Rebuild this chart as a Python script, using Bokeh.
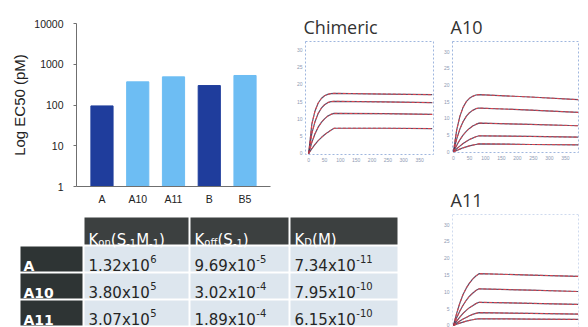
from bokeh.plotting import figure
from bokeh.models import (ColumnDataSource, FactorRange, Range1d, FixedTicker,
                          PrintfTickFormatter, Span)
from bokeh.layouts import row, column
from bokeh.core.properties import value
from bokeh.embed import file_html
from bokeh.resources import INLINE

# ---------------- data ----------------
antibodies = ["A", "A10", "A11", "B", "B5"]
ec50_pm = [95, 370, 490, 300, 530]
bar_group = ["parent", "variant", "variant", "parent", "variant"]
ec50_ticks = [1, 10, 100, 1000, 10000]

table_rows = ["A", "A10", "A11"]
kon_mantissa = ["1.32", "3.80", "3.07"]
kon_exponent = ["6", "5", "5"]
koff_mantissa = ["9.69", "3.02", "1.89"]
koff_exponent = ["-5", "-4", "-4"]
kd_mantissa = ["7.34", "7.95", "6.15"]
kd_exponent = ["-11", "-10", "-10"]
header_kon = [("K", "main"), ("on", "sub"), ("(S", "main"), ("-1", "sub"),
              ("M", "main"), ("-1", "sub"), (")", "main")]
header_koff = [("K", "main"), ("off", "sub"), ("(S", "main"), ("-1", "sub"), (")", "main")]
header_kd = [("K", "main"), ("D", "sub"), ("(M)", "main")]

time_s = [0, 10, 20, 30, 40, 50, 60, 70, 80, 240, 390]
chim_c1 = [0, 8.5, 12.3, 14.6, 15.9, 16.7, 17.1, 17.3, 17.4, 17.2, 17.0]
chim_c2 = [0, 5.8, 9.2, 11.6, 13.1, 14.1, 14.7, 15.0, 15.1, 14.9, 14.7]
chim_c3 = [0, 3.2, 5.7, 7.6, 9.0, 10.0, 10.8, 11.3, 11.6, 11.5, 11.3]
chim_c4 = [0, 1.4, 2.6, 3.7, 4.6, 5.4, 6.1, 6.7, 7.3, 7.3, 7.2]

a10_c1 = [0, 6.5, 10.6, 13.3, 15.0, 16.0, 16.6, 17.0, 17.1, 16.4, 15.6]
a10_c2 = [0, 3.8, 6.8, 9.0, 10.6, 11.7, 12.4, 12.9, 13.1, 12.5, 11.8]
a10_c3 = [0, 1.9, 3.6, 5.0, 6.1, 7.0, 7.7, 8.2, 8.6, 8.2, 7.8]
a10_c4 = [0, 0.9, 1.7, 2.5, 3.1, 3.7, 4.1, 4.5, 4.8, 4.6, 4.4]
a10_c5 = [0, 0.4, 0.8, 1.2, 1.5, 1.8, 2.0, 2.2, 2.4, 2.2, 2.1]

a11_c1 = [0, 3.6, 6.7, 9.2, 11.1, 12.6, 13.8, 14.7, 15.4, 15.0, 14.6]
a11_c2 = [0, 2.3, 4.3, 6.0, 7.5, 8.7, 9.6, 10.4, 10.9, 10.5, 10.1]
a11_c3 = [0, 1.3, 2.5, 3.6, 4.5, 5.3, 5.9, 6.5, 6.9, 6.6, 6.25]
a11_c4 = [0, 0.7, 1.3, 1.9, 2.4, 2.9, 3.3, 3.6, 3.8, 3.6, 3.4]
a11_c5 = [0, 0.35, 0.7, 1.0, 1.3, 1.5, 1.7, 1.9, 2.0, 1.9, 1.8]

sensor_yticks = [0, 5, 10, 15, 20, 25, 30]
sensor_xticks = [0, 50, 100, 150, 200, 250, 300, 350]

# ---------------- styles ----------------
BAR_COLORS = {"parent": "#1f3d9c", "variant": "#6dbdf3"}
AXIS_FONT = "Liberation Sans"
TITLE_FONT = "Open Sans"
TABLE_FONT = "DejaVu Sans"
HEADER_BG = "#3c4040"
LABEL_BG = "#2e3434"
CELL_BG = "#dde6ee"
CELL_TEXT = "#262626"

# ---------------- bar chart ----------------
bar = figure(width=290, height=207, x_range=FactorRange(factors=antibodies, range_padding=0.085),
             y_axis_type="log", y_range=Range1d(1, 10000),
             output_backend="svg", toolbar_location=None, frame_align=False,
             min_border_left=76, min_border_right=20, min_border_top=23, min_border_bottom=21)
bsrc = ColumnDataSource(dict(x=antibodies, top=ec50_pm,
                             color=[BAR_COLORS[g] for g in bar_group]))
bar.vbar(x="x", top="top", bottom=1, width=0.62, color="color", source=bsrc)
bar.xgrid.visible = False
bar.ygrid.visible = False
bar.outline_line_color = None
bar.yaxis.ticker = FixedTicker(ticks=ec50_ticks)
bar.yaxis.formatter = PrintfTickFormatter(format="%d")
bar.yaxis.minor_tick_line_color = None
bar.yaxis.major_tick_in = 0
bar.yaxis.major_tick_out = 3
bar.yaxis.major_label_standoff = 10
bar.yaxis.axis_label = "Log EC50 (pM)"
bar.yaxis.axis_label_standoff = 3
bar.yaxis.axis_label_text_font = AXIS_FONT
bar.yaxis.axis_label_text_font_size = "15px"
bar.yaxis.axis_label_text_font_style = "normal"
bar.yaxis.axis_label_text_color = "#222222"
bar.xaxis.major_tick_in = 0
bar.xaxis.major_tick_out = 0
bar.xaxis.major_label_standoff = 6
for ax in (bar.xaxis, bar.yaxis):
    ax.axis_line_color = "#6f6f6f"
    ax.major_label_text_font = AXIS_FONT
    ax.major_label_text_font_size = "10.5px"
    ax.major_label_text_color = "#222222"
bar.yaxis.major_tick_line_color = "#6f6f6f"
bar.xaxis.major_tick_line_color = None

# ---------------- sensorgrams ----------------
def sensor(title, curves, xr, yr, w, h, left, right, top, bottom, show_x=True, box=True):
    f = figure(width=w, height=h, x_range=Range1d(*xr), y_range=Range1d(*yr),
               output_backend="svg", toolbar_location=None, title=title, frame_align=False,
               x_axis_location="below" if show_x else None,
               min_border_left=left, min_border_right=right,
               min_border_top=top, min_border_bottom=bottom)
    f.title.text_font = TITLE_FONT
    f.title.text_font_size = "18px"
    f.title.text_font_style = "normal"
    f.title.text_color = "#333333"
    f.title.offset = -2
    f.title.standoff = 5
    f.xgrid.visible = False
    f.ygrid.visible = False
    for ax in f.axis:
        ax.axis_line_color = None
        ax.major_tick_line_color = None
        ax.minor_tick_line_color = None
        ax.major_tick_in = 0
        ax.major_tick_out = 0
        ax.major_label_text_font = AXIS_FONT
        ax.major_label_text_font_size = "5px"
        ax.major_label_text_color = "#8e9ab3"
        ax.major_label_standoff = 3
    f.yaxis.ticker = FixedTicker(ticks=sensor_yticks)
    if show_x:
        f.xaxis.ticker = FixedTicker(ticks=sensor_xticks)
    if box:
        f.outline_line_color = "#9fb6de"
        f.outline_line_dash = "2 2"
        f.outline_line_width = 1
    else:
        f.outline_line_color = None
        for loc, dim in ((xr[0], "height"), (xr[1], "height"), (yr[1], "width")):
            f.add_layout(Span(location=loc, dimension=dim, line_color="#9fb6de",
                              line_dash="2 2", line_width=1))
    for c in curves:
        f.line(time_s, c, line_color="#3e3152", line_width=1.2, line_alpha=0.85)
        f.line(time_s, c, line_color="#e5434b", line_width=1, line_dash="3 2")
    return f

chim = sensor("Chimeric", [chim_c1, chim_c2, chim_c3, chim_c4],
              (-10, 394), (-0.3, 32.4), 150, 207, 15, 7, 41, 53)
a10 = sensor("A10", [a10_c1, a10_c2, a10_c3, a10_c4, a10_c5],
             (-3, 391), (-0.2, 33.0), 148, 180, 12, 10, 41, 28)
a11 = sensor("A11", [a11_c1, a11_c2, a11_c3, a11_c4, a11_c5],
             (-3, 391), (-0.6, 33.0), 148, 147, 12, 10, 34, 0, show_x=False, box=False)

# ---------------- table ----------------
T_W, T_H = 440, 120
tab = figure(width=T_W, height=T_H, x_range=Range1d(0, T_W), y_range=Range1d(T_H, 0),
             output_backend="svg", toolbar_location=None, min_border=0, frame_align=False,
             x_axis_location=None, y_axis_location=None)
tab.xgrid.visible = False
tab.ygrid.visible = False
tab.outline_line_color = None

COL_EDGES = [(20, 82), (84, 188), (190, 288), (290, 397)]   # label, Kon, Koff, KD
ROW_EDGES = [(10, 37), (39, 64), (66, 91), (93, 118)]        # header, rows
DV = {**{d: 0.636 for d in "0123456789"}, ".": 0.318, "x": 0.592, "-": 0.361,
      "K": 0.656, "S": 0.635, "M": 0.863, "D": 0.770, "(": 0.390, ")": 0.390,
      "o": 0.612, "n": 0.634, "f": 0.352}

def tw(s, size):
    return sum(DV.get(ch, 0.6) for ch in s) * size

ql, qr, qt, qb, qc = [], [], [], [], []
for l, r in COL_EDGES[1:]:
    ql.append(l); qr.append(r); qt.append(ROW_EDGES[0][0]); qb.append(ROW_EDGES[0][1]); qc.append(HEADER_BG)
for ri in range(len(table_rows)):
    t, b = ROW_EDGES[ri + 1]
    ql.append(COL_EDGES[0][0]); qr.append(COL_EDGES[0][1]); qt.append(t); qb.append(b); qc.append(LABEL_BG)
    for l, r in COL_EDGES[1:]:
        ql.append(l); qr.append(r); qt.append(t); qb.append(b); qc.append(CELL_BG)
tab.quad(left=ql, right=qr, top=qt, bottom=qb, fill_color=qc, line_color=None)

def add_text(xs, ys, texts, size, color, style="normal"):
    tab.text(x=xs, y=ys, text=texts, text_font=value(TABLE_FONT),
             text_font_size=value(f"{size}px"), text_font_style=style,
             text_color=color, text_baseline="alphabetic", text_align="left")

MAIN, SUB = 15, 10
for (l, r), pieces in zip(COL_EDGES[1:], [header_kon, header_koff, header_kd]):
    x = l + 4
    mx, my, mt, sx, sy, st = [], [], [], [], [], []
    for txt, kind in pieces:
        if kind == "main":
            mx.append(x); my.append(ROW_EDGES[0][0] + 22); mt.append(txt); x += tw(txt, MAIN)
        else:
            sx.append(x); sy.append(ROW_EDGES[0][0] + 25); st.append(txt); x += tw(txt, SUB)
    add_text(mx, my, mt, MAIN, "#ffffff")
    add_text(sx, sy, st, SUB, "#ffffff")

add_text([COL_EDGES[0][0] + 3] * 3, [ROW_EDGES[i + 1][0] + 19 for i in range(3)],
         table_rows, 14, "#ffffff", "bold")

for (l, r), mant, expo in zip(COL_EDGES[1:], [kon_mantissa, koff_mantissa, kd_mantissa],
                              [kon_exponent, koff_exponent, kd_exponent]):
    base = [m + "x10" for m in mant]
    add_text([l + 4] * 3, [ROW_EDGES[i + 1][0] + 19 for i in range(3)], base, 15, CELL_TEXT)
    add_text([l + 4 + tw(b, 15) + 0.5 for b in base],
             [ROW_EDGES[i + 1][0] + 12 for i in range(3)], expo, 10, CELL_TEXT)

# ---------------- layout ----------------
layout = row(column(row(bar, chim), tab), column(a10, a11))

open("out.html", "w").write(file_html(layout, INLINE))
